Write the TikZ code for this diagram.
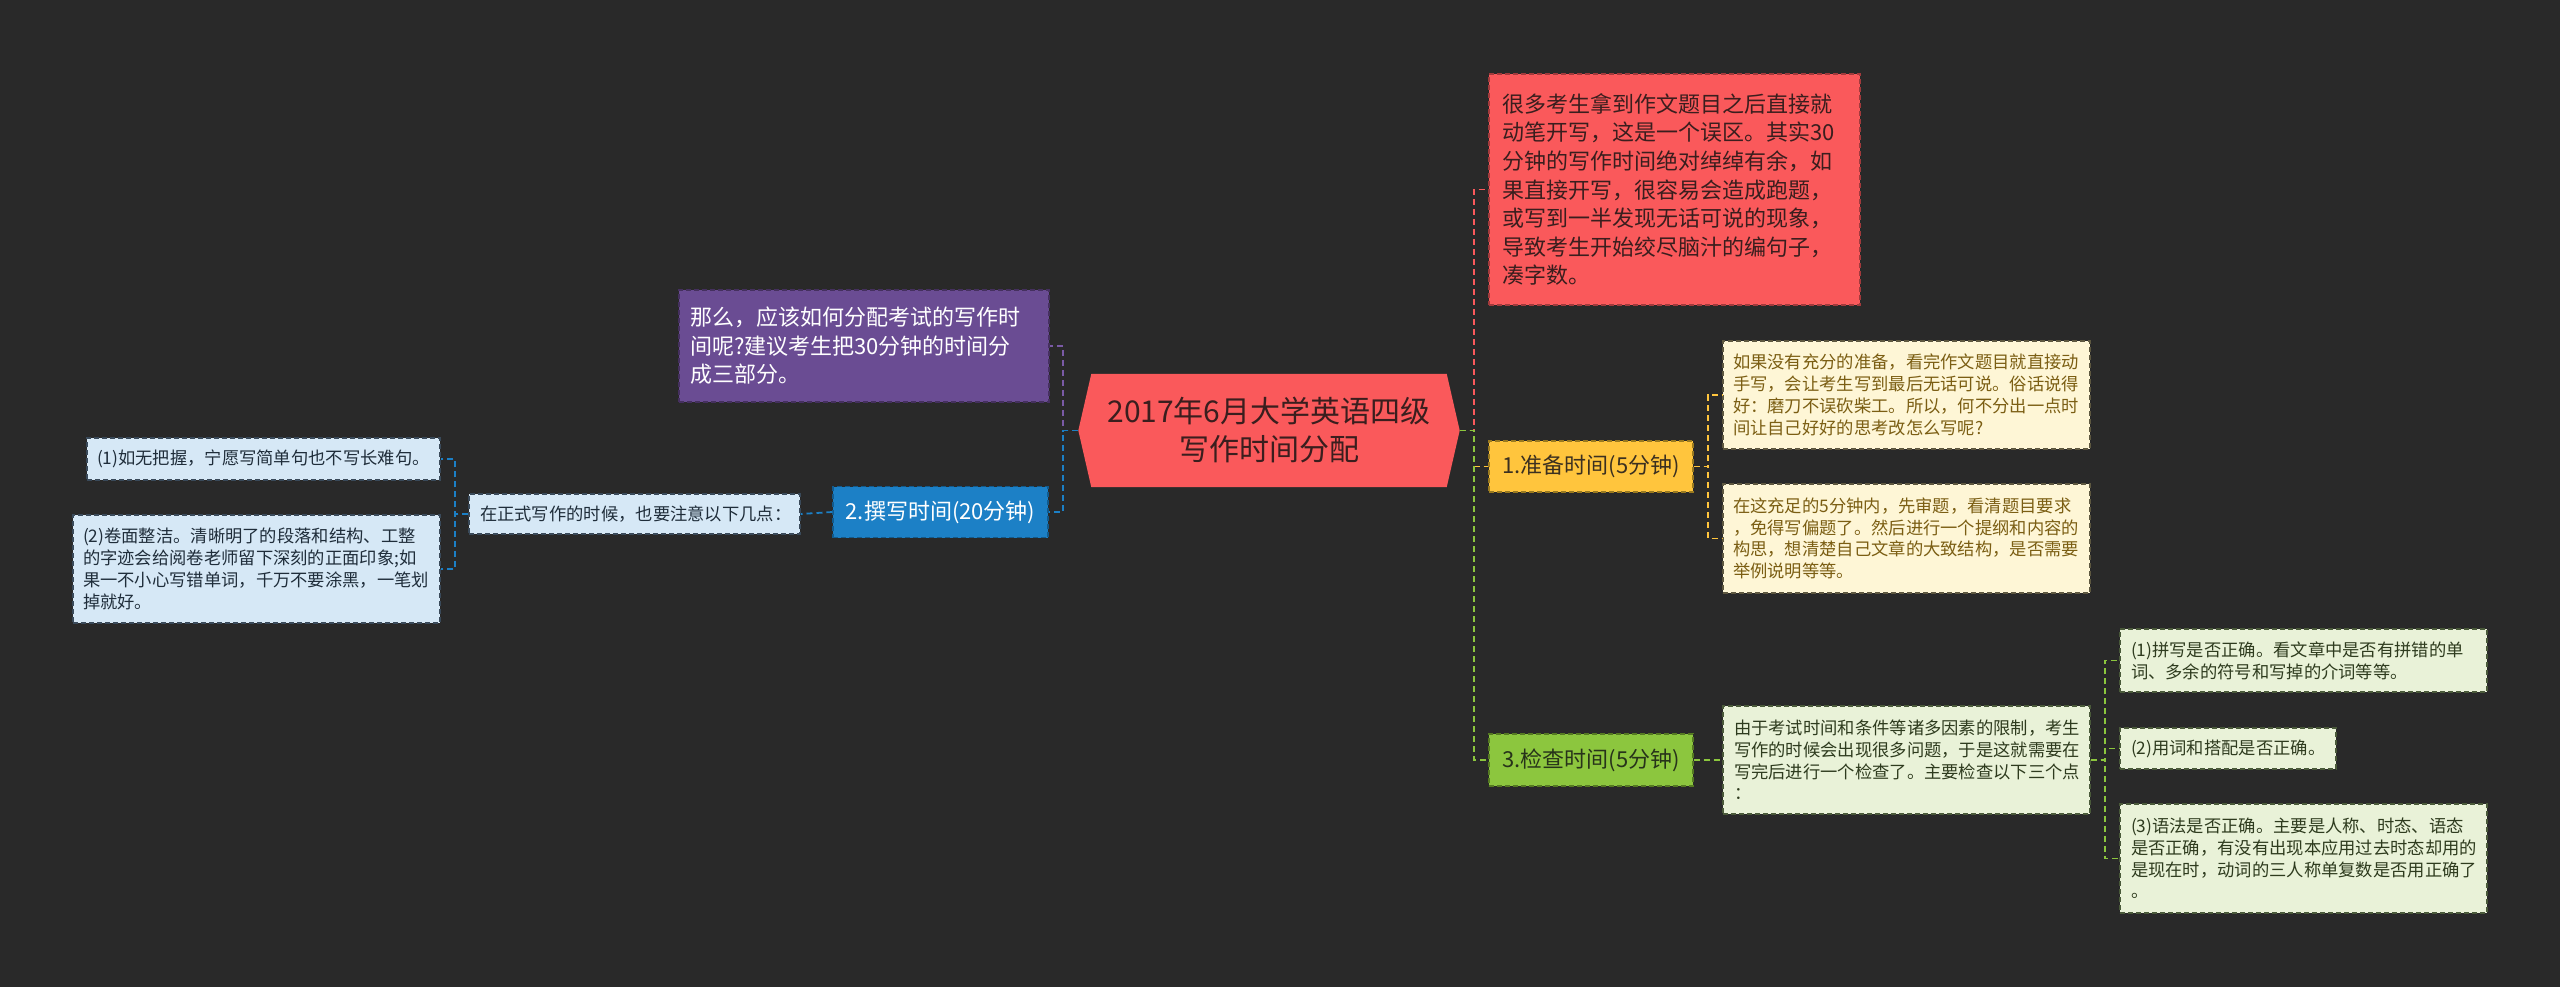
\documentclass[tikz,border=0pt]{standalone}
\usepackage{fontspec}
\setmainfont{Noto Sans CJK SC}
\usetikzlibrary{calc}
\pgfdeclarelayer{bg}
\pgfsetlayers{bg,main}
\newcommand\myfs[2]{\fontsize{#1}{#2}\selectfont}
\definecolor{bgc}{HTML}{292929}
\definecolor{redc}{HTML}{FA595B}
\definecolor{redD}{HTML}{A23A3C}
\definecolor{redT}{HTML}{3A1E1E}
\definecolor{purc}{HTML}{6A4C93}
\definecolor{purD}{HTML}{45305F}
\definecolor{purL}{HTML}{7A5AA5}
\definecolor{bluc}{HTML}{1C80C6}
\definecolor{bluD}{HTML}{125A8C}
\definecolor{yelc}{HTML}{FFC53D}
\definecolor{yelD}{HTML}{9A7A20}
\definecolor{yelT}{HTML}{3B3020}
\definecolor{grnc}{HTML}{8CC63E}
\definecolor{grnD}{HTML}{557A22}
\definecolor{grnT}{HTML}{27331A}
\definecolor{lyel}{HTML}{FEF6D6}
\definecolor{lyelD}{HTML}{5E5840}
\definecolor{lyelT}{HTML}{7B5E13}
\definecolor{lgrn}{HTML}{E9F2D8}
\definecolor{lgrnD}{HTML}{4A5A3A}
\definecolor{lgrnT}{HTML}{2E3B1E}
\definecolor{lblu}{HTML}{D6E8F6}
\definecolor{lbluD}{HTML}{3A4A5A}
\definecolor{lbluT}{HTML}{1F2D3A}
\tikzset{
  bx/.style={draw=#1, line width=1.1pt, dash pattern=on 5pt off 3pt, inner ysep=0pt, anchor=center},
  conn/.style={draw=#1, line width=1.8pt, dash pattern=on 6pt off 4pt},
  smalltxt/.style={font=\myfs{17.3}{21.8}, align=left, inner xsep=10pt},
  midtxt/.style={font=\myfs{22}{28.6}, align=left, inner xsep=12pt},
  lvl/.style={font=\myfs{22}{28}, align=center, inner sep=0pt, minimum width=204pt, minimum height=51pt},
}
\begin{document}
\begin{tikzpicture}[x=1pt,y=-1pt]
\begin{pgfonlayer}{bg}
\fill[bgc] (0,0) rectangle (2560,987);
\end{pgfonlayer}
\useasboundingbox (0,0) rectangle (2560,987);

% center
\node[font=\myfs{30}{38}, align=center, text=redT, minimum width=381pt, minimum height=113pt, inner sep=0pt] (ctr) at (1269,430.5) {2017年6月大学英语四级\\写作时间分配};
\begin{pgfonlayer}{bg}
\fill[redc] (ctr.west) -- ($(ctr.north west)+(13,0)$) -- ($(ctr.north east)+(-13,0)$) -- (ctr.east) -- ($(ctr.south east)+(-13,0)$) -- ($(ctr.south west)+(13,0)$) -- cycle;
\end{pgfonlayer}

% right level 1
\node[bx=redD, fill=redc, text=redT, midtxt, inner xsep=13pt, text width=345pt, minimum height=231pt] (red) at (1674.5,189.5) {很多考生拿到作文题目之后直接就\\动笔开写，这是一个误区。其实30\\分钟的写作时间绝对绰绰有余，如\\果直接开写，很容易会造成跑题，\\或写到一半发现无话可说的现象，\\导致考生开始绞尽脑汁的编句子，\\凑字数。};
\node[bx=yelD, fill=yelc, text=yelT, lvl] (p1) at (1591,466.5) {1.准备时间(5分钟)};
\node[bx=grnD, fill=grnc, text=grnT, lvl, minimum height=52pt] (p3) at (1591,760) {3.检查时间(5分钟)};

% left level 1
\node[bx=purD, fill=purc, text=white, midtxt, inner xsep=11pt, text width=348pt, minimum height=112pt] (pur) at (864,346) {那么，应该如何分配考试的写作时\\间呢?建议考生把30分钟的时间分\\成三部分。};
\node[bx=bluD, fill=bluc, text=white, lvl, minimum width=215pt] (p2) at (940.5,512) {2.撰写时间(20分钟)};

% level 2 right
\node[bx=lyelD, fill=lyel, text=lyelT, smalltxt, text width=347pt, minimum height=108pt] (y1) at (1906.5,395) {如果没有充分的准备，看完作文题目就直接动\\手写，会让考生写到最后无话可说。俗话说得\\好：磨刀不误砍柴工。所以，何不分出一点时\\间让自己好好的思考改怎么写呢?};
\node[bx=lyelD, fill=lyel, text=lyelT, smalltxt, text width=347pt, minimum height=109pt] (y2) at (1906.5,538.5) {在这充足的5分钟内，先审题，看清题目要求\\，免得写偏题了。然后进行一个提纲和内容的\\构思，想清楚自己文章的大致结构，是否需要\\举例说明等等。};
\node[bx=lgrnD, fill=lgrn, text=lgrnT, smalltxt, inner xsep=11pt, text width=345pt, minimum height=108pt] (gd) at (1906.5,760) {由于考试时间和条件等诸多因素的限制，考生\\写作的时候会出现很多问题，于是这就需要在\\写完后进行一个检查了。主要检查以下三个点\\：};
\node[bx=lgrnD, fill=lgrn, text=lgrnT, smalltxt, inner xsep=11pt, text width=345pt, minimum height=63pt] (g1) at (2303.5,660.5) {(1)拼写是否正确。看文章中是否有拼错的单\\词、多余的符号和写掉的介词等等。};
\node[bx=lgrnD, fill=lgrn, text=lgrnT, smalltxt, inner xsep=11pt, text width=194pt, minimum height=41pt] (g2) at (2228,748.5) {(2)用词和搭配是否正确。};
\node[bx=lgrnD, fill=lgrn, text=lgrnT, smalltxt, inner xsep=11pt, text width=345pt, minimum height=109pt] (g3) at (2303.5,858.5) {(3)语法是否正确。主要是人称、时态、语态\\是否正确，有没有出现本应用过去时态却用的\\是现在时，动词的三人称单复数是否用正确了\\。};

% level 2 left
\node[bx=lbluD, fill=lblu, text=lbluT, smalltxt, inner xsep=11pt, text width=309pt, minimum height=40pt] (lz) at (634.5,514) {在正式写作的时候，也要注意以下几点：};
\node[bx=lbluD, fill=lblu, text=lbluT, smalltxt, inner xsep=10pt, text width=333pt, minimum height=42pt] (l1) at (263.5,459) {(1)如无把握，宁愿写简单句也不写长难句。};
\node[bx=lbluD, fill=lblu, text=lbluT, smalltxt, inner xsep=10pt, text width=347pt, minimum height=108pt] (l2) at (256.5,569) {(2)卷面整洁。清晰明了的段落和结构、工整\\的字迹会给阅卷老师留下深刻的正面印象;如\\果一不小心写错单词，千万不要涂黑，一笔划\\掉就好。};

% spines
\coordinate (sR) at (1474,0);
\coordinate (sL) at (1063,0);
\coordinate (s1) at (1708,0);
\coordinate (s3) at (2105,0);
\coordinate (s2) at (455,0);

% connectors
\draw[conn=redc] (ctr.east) -- (ctr.east -| sR) |- (red.west);
\draw[conn=yelc] (ctr.east) -- (ctr.east -| sR) |- (p1.west);
\draw[conn=grnc] (ctr.east) -- (ctr.east -| sR) |- (p3.west);
\draw[conn=purL] (ctr.west) -- (ctr.west -| sL) |- (pur.east);
\draw[conn=bluc] (ctr.west) -- (ctr.west -| sL) |- (p2.east);

\draw[conn=yelc] (p1.east) -- (p1.east -| s1) |- (y1.west);
\draw[conn=yelc] (p1.east) -- (p1.east -| s1) |- (y2.west);
\draw[conn=grnc] (p3.east) -- (gd.west);
\draw[conn=grnc] (gd.east) -- (gd.east -| s3) |- (g1.west);
\draw[conn=grnc] (gd.east) -- (gd.east -| s3) |- (g2.west);
\draw[conn=grnc] (gd.east) -- (gd.east -| s3) |- (g3.west);
\draw[conn=bluc] (p2.west) -- (lz.east);
\draw[conn=bluc] (lz.west) -- (lz.west -| s2) |- (l1.east);
\draw[conn=bluc] (lz.west) -- (lz.west -| s2) |- (l2.east);
\end{tikzpicture}
\end{document}
